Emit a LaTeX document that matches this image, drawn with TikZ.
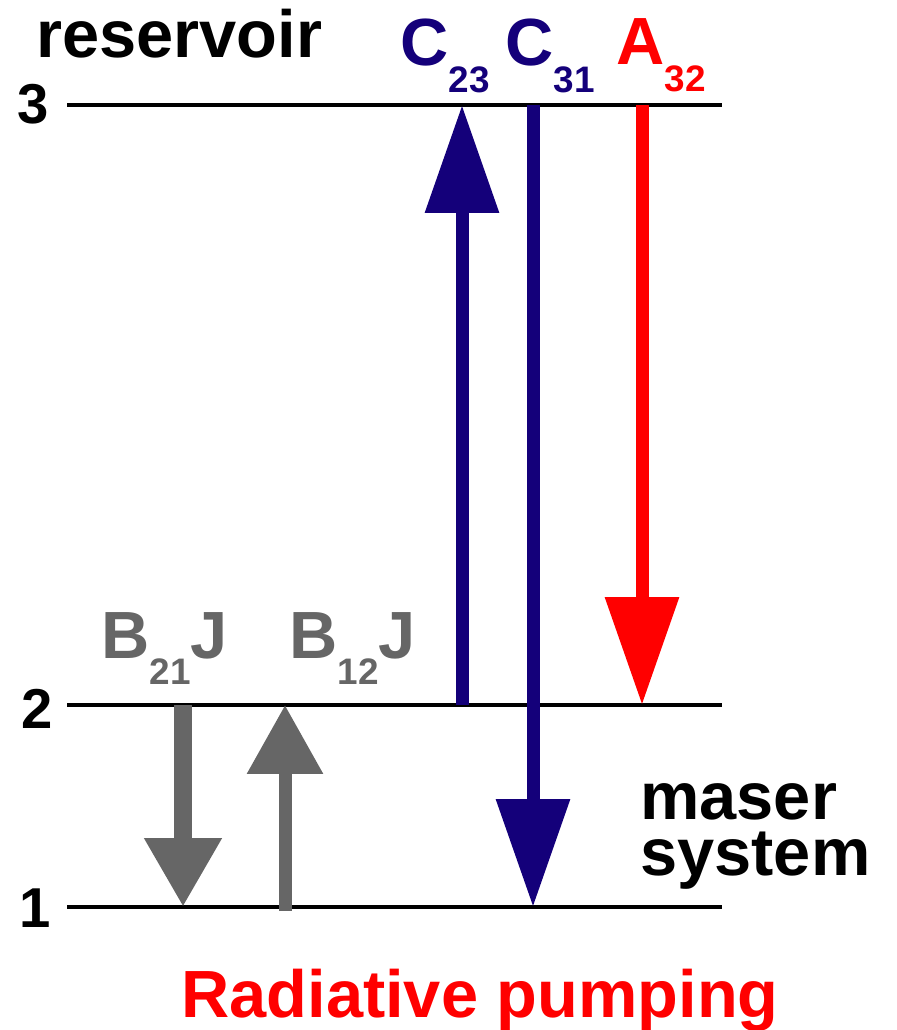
\documentclass[tikz,border=0pt]{standalone}
\usepackage{fontspec}
\setmainfont{Liberation Sans}
\usepackage{xcolor}
\usetikzlibrary{arrows.meta}

\definecolor{pumpblue}{RGB}{20,0,122}
\definecolor{pumpred}{RGB}{255,0,0}
\definecolor{raygray}{RGB}{102,102,102}

\newcommand{\lowsub}[1]{\raisebox{-0.4em}{\fontsize{21}{21}\selectfont #1}}

\begin{document}
\begin{tikzpicture}[
    x=0.02cm, y=-0.02cm,
    lbl/.style={inner sep=0, anchor=base west, font=\fontsize{38}{44}\selectfont\bfseries},
    num/.style={inner sep=0, font=\fontsize{32}{36}\selectfont\bfseries},
    level/.style={line width=0.08cm},
    longarr/.style={line width=0.26cm, color=#1, -{Triangle[length=2.16cm, width=1.42cm]}},
    shortarr/.style={line width=#1, color=raygray, -{Triangle[length=1.38cm, width=1.46cm]}}
]
\useasboundingbox (0,0) rectangle (896,1030);

% Levels
\node[num] (n3) at (33,104) {3};
\node[num] (n2) at (37,709) {2};
\node[num] (n1) at (35,908) {1};
\coordinate (l3w) at (67,105);  \coordinate (l3e) at (722,105);
\coordinate (l2w) at (67,705);  \coordinate (l2e) at (722,705);
\coordinate (l1w) at (67,907);  \coordinate (l1e) at (722,907);
\draw[level] (l3w) -- (l3e);
\draw[level] (l2w) -- (l2e);
\draw[level] (l1w) -- (l1e);

% Reservoir
\node[lbl] (res) at (36,58) {reservoir};

% Collisions
\node[lbl, text=pumpblue] (c23) at (400,66) {C\lowsub{23}};
\node[lbl, text=pumpblue] (c31) at (505,66) {C\lowsub{31}};
\coordinate (c23a) at (462,705); \coordinate (c23b) at (462,105);
\coordinate (c31a) at (533,105); \coordinate (c31b) at (533,907);
\draw[longarr=pumpblue] (c23a) -- (c23b);
\draw[longarr=pumpblue] (c31a) -- (c31b);

% Spontaneous emission
\node[lbl, text=pumpred] (a32) at (616,65) {A\lowsub{32}};
\coordinate (a32a) at (642,105); \coordinate (a32b) at (642,705);
\draw[longarr=pumpred] (a32a) -- (a32b);

% Maser transitions
\node[lbl, text=raygray] (b21) at (101,658) {B\lowsub{21}J};
\node[lbl, text=raygray] (b12) at (289,658) {B\lowsub{12}J};
\coordinate (b21a) at (183,705); \coordinate (b21b) at (183,907);
\coordinate (b12a) at (285,911); \coordinate (b12b) at (285,705);
\draw[shortarr=0.36cm] (b21a) -- (b21b);
\draw[shortarr=0.26cm] (b12a) -- (b12b);

% Maser system
\node[lbl, anchor=north west, align=left, font=\fontsize{38}{32}\selectfont\bfseries] (maser) at (640,783) {maser\\system};

% Title
\node[lbl, anchor=base, text=pumpred] (title) at (480,1017) {Radiative pumping};

\end{tikzpicture}
\end{document}
